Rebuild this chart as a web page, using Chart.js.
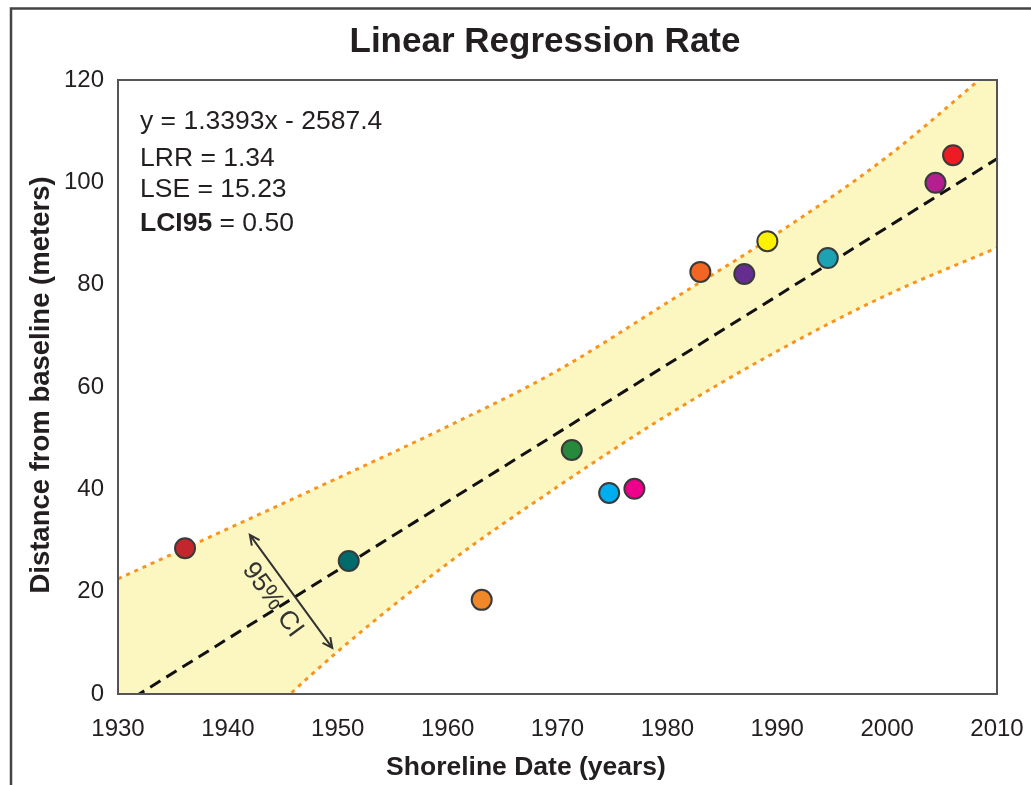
<!DOCTYPE html>
<html>
<head>
<meta charset="utf-8">
<script src="https://cdn.jsdelivr.net/npm/chart.js@4.4.0/dist/chart.umd.min.js"></script>
<style>
  html, body { margin: 0; padding: 0; background: #fff; }
</style>
</head>
<body>
<canvas id="chart" width="1031" height="785"></canvas>
<script>
// shoreline positions
const shoreYears = [1936.1, 1951.0, 1963.1, 1971.3, 1974.7, 1977.0, 1983.0, 1987.0, 1989.1, 1994.6, 2004.4, 2006.0];
const shoreDist  = [28.5, 26.0, 18.4, 47.7, 39.3, 40.1, 82.5, 82.1, 88.5, 85.2, 99.9, 105.3];
const shoreColors = ['#c1272d', '#006b6b', '#f0882a', '#27893c', '#00aeef', '#ec008c',
                     '#f26522', '#662d91', '#fff200', '#1ba3b5', '#b31f8e', '#ed1c24'];

// regression line ends and 95% band edges
const fitYears = [1930, 2010];
const fitDist  = [-2.6, 104.6];
const bandYears = [1930, 1940, 1950, 1960, 1970, 1980, 1990, 2000, 2010];
const bandUpper = [22.5, 32.3, 42.2, 52.3, 63.2, 76.5, 90.0, 105.0, 123.0];
const bandLower = [-33.0, -11.5, 8.3, 25.5, 40.5, 54.5, 67.0, 78.0, 87.2];

const xTicks = [1930, 1940, 1950, 1960, 1970, 1980, 1990, 2000, 2010];
const yTicks = [0, 20, 40, 60, 80, 100, 120];

const statLines = ['y = 1.3393x - 2587.4', 'LRR = 1.34', 'LSE = 15.23'];

const txt = '#231f20';
const fontFam = '"Liberation Sans", Arial, sans-serif';

const pts = (xs, ys) => xs.map((x, i) => ({ x: x, y: ys[i] }));

const decor = {
    id: 'decor',
    afterDatasetsDraw(chart) {
        const ctx = chart.ctx;
        const a = chart.chartArea;
        const xs = chart.scales.x, ys = chart.scales.y;

        // plot frame
        ctx.save();
        ctx.strokeStyle = '#555';
        ctx.lineWidth = 2;
        ctx.strokeRect(a.left, a.top, a.right - a.left, a.bottom - a.top);

        // 95% CI arrow
        const x1 = xs.getPixelForValue(1942.0), y1 = ys.getPixelForValue(31.1);
        const x2 = xs.getPixelForValue(1949.5), y2 = ys.getPixelForValue(9.0);
        const ang = Math.atan2(y2 - y1, x2 - x1);
        ctx.strokeStyle = '#333';
        ctx.lineWidth = 2;
        ctx.beginPath();
        ctx.moveTo(x1, y1);
        ctx.lineTo(x2, y2);
        [[x1, y1, ang], [x2, y2, ang + Math.PI]].forEach(([hx, hy, d]) => {
            ctx.moveTo(hx + 11 * Math.cos(d + 0.45), hy + 11 * Math.sin(d + 0.45));
            ctx.lineTo(hx, hy);
            ctx.lineTo(hx + 11 * Math.cos(d - 0.45), hy + 11 * Math.sin(d - 0.45));
        });
        ctx.stroke();

        ctx.translate((x1 + x2) / 2, (y1 + y2) / 2);
        ctx.rotate(ang);
        ctx.fillStyle = '#333';
        ctx.font = '26px ' + fontFam;
        ctx.textAlign = 'center';
        ctx.textBaseline = 'middle';
        ctx.fillText('95% CI', -4, 20);
        ctx.restore();
    },
    afterDraw(chart) {
        const ctx = chart.ctx;
        ctx.save();
        // outer frame
        ctx.strokeStyle = '#444';
        ctx.lineWidth = 2.5;
        ctx.strokeRect(11, 8.5, 1100, 900);

        ctx.fillStyle = txt;
        ctx.textBaseline = 'alphabetic';

        ctx.font = 'bold 35px ' + fontFam;
        ctx.textAlign = 'center';
        ctx.fillText('Linear Regression Rate', 545, 52);

        ctx.font = 'bold 26.5px ' + fontFam;
        ctx.fillText('Shoreline Date (years)', 526, 775);

        ctx.save();
        ctx.translate(49, 385);
        ctx.rotate(-Math.PI / 2);
        ctx.font = 'bold 27.5px ' + fontFam;
        ctx.fillText('Distance from baseline (meters)', 0, 0);
        ctx.restore();

        ctx.textAlign = 'left';
        ctx.font = '26.5px ' + fontFam;
        const bases = [129, 166, 197];
        statLines.forEach((s, i) => ctx.fillText(s, 140, bases[i]));
        ctx.font = 'bold 26.5px ' + fontFam;
        ctx.fillText('LCI95', 140, 231);
        const w = ctx.measureText('LCI95').width;
        ctx.font = '26.5px ' + fontFam;
        ctx.fillText(' = 0.50', 140 + w, 231);
        ctx.restore();
    }
};

new Chart(document.getElementById('chart'), {
    type: 'scatter',
    data: {
        datasets: [
            {
                data: pts(shoreYears, shoreDist),
                order: 0,
                pointRadius: 10,
                pointBackgroundColor: shoreColors,
                pointBorderColor: '#3a3a3a',
                pointBorderWidth: 2,
                clip: false
            },
            {
                type: 'line',
                data: pts(fitYears, fitDist),
                order: 1,
                borderColor: '#111',
                borderWidth: 3,
                borderDash: [12, 7],
                pointRadius: 0,
                fill: false,
                clip: 0
            },
            {
                type: 'line',
                data: pts(bandYears, bandUpper),
                order: 3,
                borderColor: '#f7941d',
                borderWidth: 3,
                borderDash: [4, 5],
                pointRadius: 0,
                cubicInterpolationMode: 'monotone',
                backgroundColor: '#fcf6c1',
                fill: '+1',
                clip: 0
            },
            {
                type: 'line',
                data: pts(bandYears, bandLower),
                order: 2,
                borderColor: '#f7941d',
                borderWidth: 3,
                borderDash: [4, 5],
                pointRadius: 0,
                cubicInterpolationMode: 'monotone',
                fill: false,
                clip: 0
            }
        ]
    },
    options: {
        responsive: false,
        animation: false,
        layout: { padding: { top: 80, right: 34, left: 0, bottom: 0 } },
        plugins: {
            legend: { display: false },
            tooltip: { enabled: false }
        },
        scales: {
            x: {
                type: 'linear',
                min: 1930,
                max: 2010,
                afterBuildTicks: s => { s.ticks = xTicks.map(v => ({ value: v })); },
                afterFit: s => {
                    s.height = 91;
                    s.paddingLeft = 0;
                    s.paddingRight = 0;
                },
                grid: { display: false, drawTicks: false },
                border: { display: false },
                ticks: {
                    padding: 21,
                    color: txt,
                    font: { family: fontFam, size: 24 },
                    maxRotation: 0,
                    callback: v => String(v)
                }
            },
            y: {
                min: 0,
                max: 120,
                afterBuildTicks: s => { s.ticks = yTicks.map(v => ({ value: v })); },
                afterFit: s => {
                    s.width = 118;
                    s.paddingTop = 0;
                    s.paddingBottom = 0;
                },
                grid: { display: false, drawTicks: false },
                border: { display: false },
                ticks: {
                    padding: 14,
                    color: txt,
                    font: { family: fontFam, size: 24 },
                    callback: v => String(v)
                }
            }
        }
    },
    plugins: [decor]
});
</script>
</body>
</html>
